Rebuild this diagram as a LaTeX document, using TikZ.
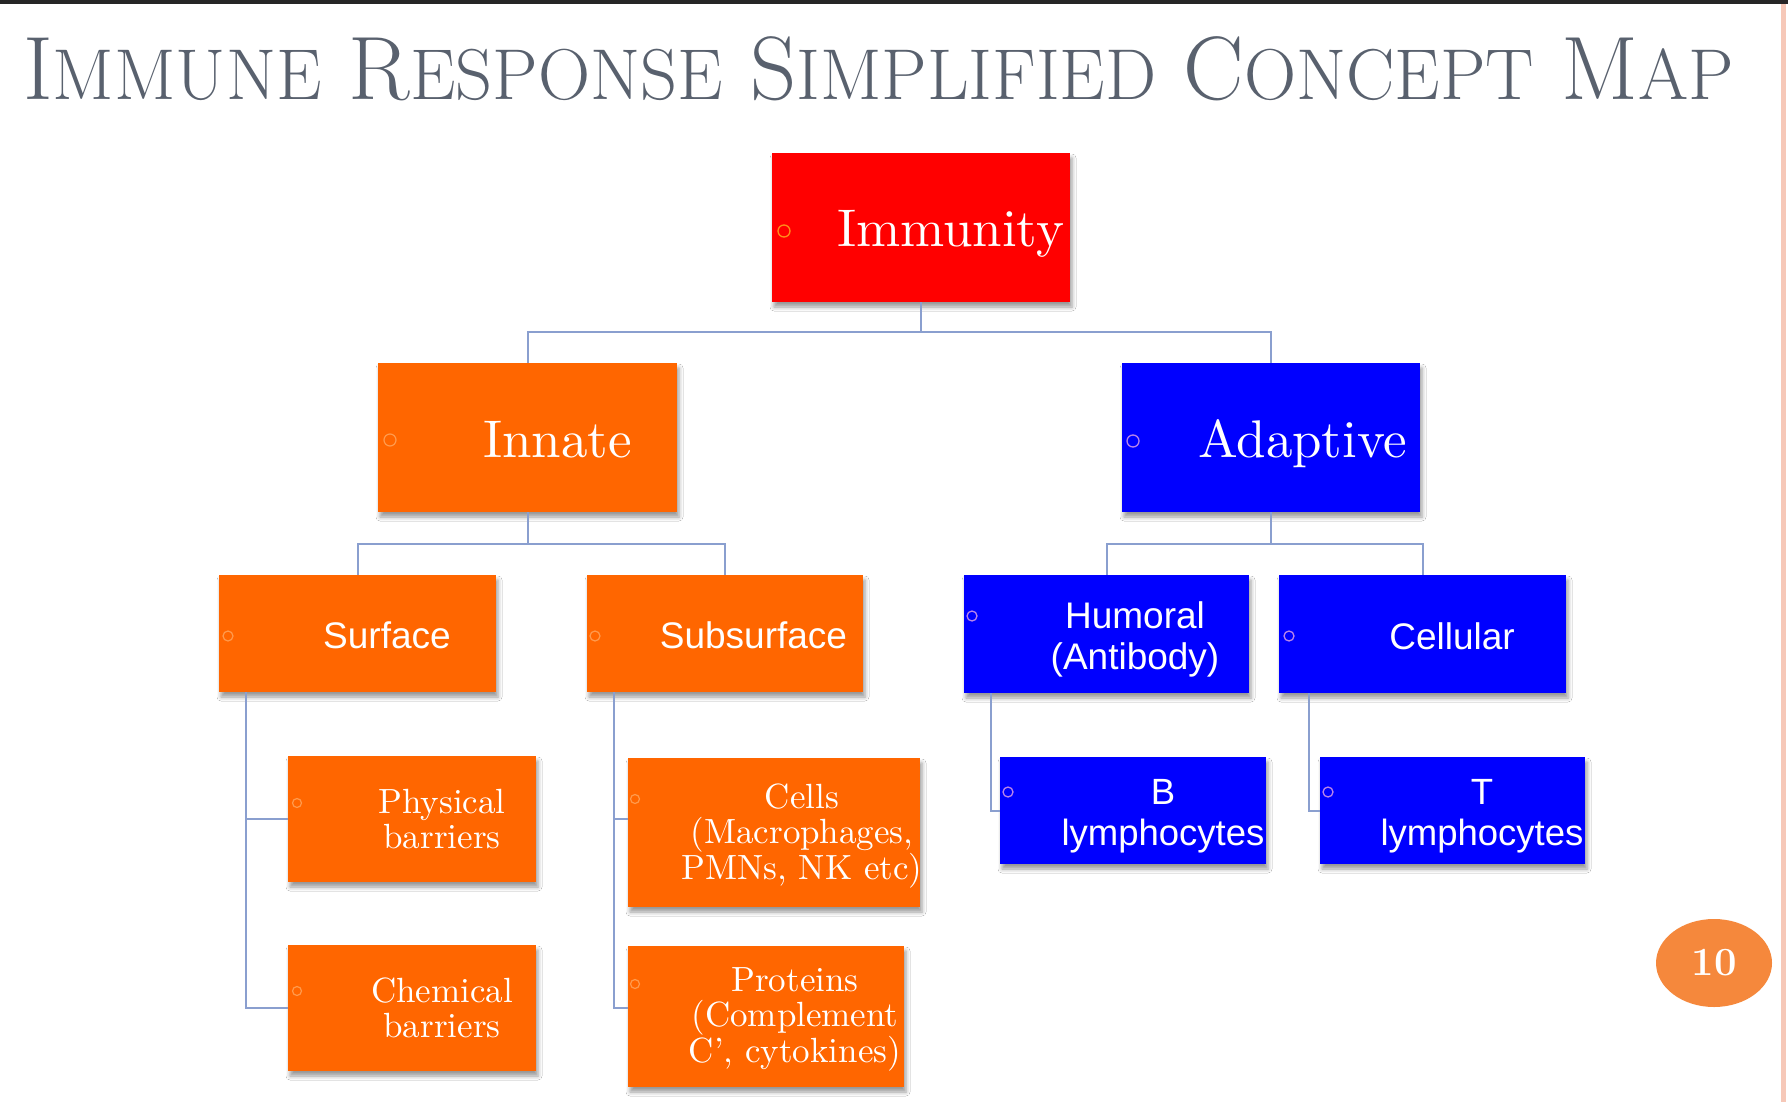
\documentclass[tikz,border=0pt]{standalone}
\usepackage{fontspec}
\newfontfamily\sansarial{Liberation Sans}
\newfontfamily\labelserif{lmroman10-regular.otf}
\usetikzlibrary{shapes.geometric,shadows.blur}

\definecolor{immred}{HTML}{FF0000}
\definecolor{innorange}{HTML}{FF6600}
\definecolor{adablue}{HTML}{0000FF}
\definecolor{linkblue}{HTML}{8A9FCF}
\definecolor{titlegrey}{HTML}{59616E}
\definecolor{pageorange}{HTML}{F5883C}
\definecolor{edgepink}{HTML}{F6C8B8}
\definecolor{topbar}{HTML}{262626}
\definecolor{dotorange}{HTML}{FF9A4D}
\definecolor{dotred}{HTML}{FF8C1A}
\definecolor{dotblue}{HTML}{B784EA}

\newcommand\titlesc[1]{{\fontsize{72}{72}\selectfont #1}}

\begin{document}
\begin{tikzpicture}[x=1pt,y=-1pt,
  box/.style={rectangle, inner sep=0pt,
    blur shadow={shadow xshift=2pt, shadow yshift=-5pt,
                 shadow blur radius=4pt, shadow opacity=40}},
  conn/.style={draw=linkblue, line width=2pt},
  bigserif/.style={text=white, inner sep=0pt, font=\labelserif\fontsize{53}{53}\selectfont},
  sanslbl/.style={text=white, inner sep=0pt, align=center,
    font=\sansarial\fontsize{37}{41}\selectfont},
  sanslblb/.style={text=white, inner sep=0pt, align=center,
    font=\sansarial\fontsize{36.5}{41}\selectfont},
  seriflbl/.style={text=white, inner sep=0pt, align=center,
    font=\labelserif\fontsize{35}{34.5}\selectfont},
  dotO/.style={draw=dotorange, line width=1.2pt},
  dotR/.style={draw=dotred, line width=1.3pt},
  dotB/.style={draw=dotblue, line width=1.3pt}]

% page frame
\useasboundingbox (0,0) rectangle (1788,1102);
\fill[white] (0,0) rectangle (1788,1102);
\fill[topbar] (0,0) rectangle (1788,4);
\fill[edgepink] (1781,4) rectangle (1786,1102);

% title
\node[anchor=base west, inner sep=0pt, text=titlegrey] (title) at (23,100)
  {\scalebox{1.005}[1]{\fontsize{90}{90}\selectfont
   I\titlesc{MMUNE} R\titlesc{ESPONSE} S\titlesc{IMPLIFIED} C\titlesc{ONCEPT} M\titlesc{AP}}};

% boxes
\node[box, fill=immred,    minimum width=298, minimum height=149] (imm) at (921,227.5) {};
\node[box, fill=innorange, minimum width=299, minimum height=149] (inn) at (527.5,437.5) {};
\node[box, fill=adablue,   minimum width=298, minimum height=149] (ada) at (1271,437.5) {};
\node[box, fill=innorange, minimum width=277, minimum height=117] (sur) at (357.5,633.5) {};
\node[box, fill=innorange, minimum width=276, minimum height=117] (sub) at (725,633.5) {};
\node[box, fill=adablue,   minimum width=285, minimum height=118] (hum) at (1106.5,634) {};
\node[box, fill=adablue,   minimum width=287, minimum height=118] (cel) at (1422.5,634) {};
\node[box, fill=innorange, minimum width=248, minimum height=126] (phy) at (412,819) {};
\node[box, fill=innorange, minimum width=248, minimum height=126] (che) at (412,1008) {};
\node[box, fill=innorange, minimum width=292, minimum height=149] (cls) at (774,832.5) {};
\node[box, fill=innorange, minimum width=276, minimum height=141] (pro) at (766,1016.5) {};
\node[box, fill=adablue,   minimum width=266, minimum height=107] (bly) at (1133,810.5) {};
\node[box, fill=adablue,   minimum width=265, minimum height=107] (tly) at (1452.5,810.5) {};

% connectors
\coordinate (j1) at (921,332);
\coordinate (j2) at (527.5,544);
\coordinate (j3) at (1271,544);
\draw[conn] (imm.south) -- (j1);
\draw[conn] (inn.north) |- (j1) -| (ada.north);
\draw[conn] (inn.south) -- (j2);
\draw[conn] (sur.north) |- (j2) -| (sub.north);
\draw[conn] (ada.south) -- (j3);
\draw[conn] (hum.north) |- (j3) -| (cel.north);
\coordinate (sv) at ([xshift=27pt]sur.south west);
\coordinate (bv) at ([xshift=27pt]sub.south west);
\coordinate (hv) at ([xshift=27pt]hum.south west);
\coordinate (cv) at ([xshift=30pt]cel.south west);
\draw[conn] (sv) |- (phy.west);
\draw[conn] (sv) |- (che.west);
\draw[conn] (bv) |- (cls.west |- phy.west);
\draw[conn] (bv) |- (pro.west |- che.west);
\draw[conn] (hv) |- (bly.west);
\draw[conn] (cv) |- (tly.west);

% bullet rings
\draw[dotR] (784,231) circle (6);
\draw[dotO] (390,440) circle (6);
\draw[dotB] (1133,441) circle (6);
\draw[dotO] (228,636) circle (5);
\draw[dotO] (595,636) circle (5);
\draw[dotB] (972,616) circle (5);
\draw[dotB] (1289,636) circle (5);
\draw[dotB] (1008,792) circle (5);
\draw[dotB] (1328,792) circle (5);
\draw[dotO] (297,803) circle (4.5);
\draw[dotO] (297,991) circle (4.5);
\draw[dotO] (635,799) circle (4.5);
\draw[dotO] (635,984) circle (4.5);

% labels (multi-line labels sit on the baseline of their last line)
\node[bigserif, anchor=base west] (immT) at (837,247) {Immunity};
\node[bigserif, anchor=base west] (innT) at (483,457) {Innate};
\node[bigserif, anchor=base west] (adaT) at (1198,457) {Adaptive};
\node[sanslbl, anchor=base] (surT) at (387,648) {Surface};
\node[sanslbl, anchor=base] (subT) at (753.5,648) {Subsurface};
\node[sanslbl, anchor=base] (humT) at (1135,669) {Humoral\\(Antibody)};
\node[sanslbl, anchor=base] (celT) at (1452,649) {Cellular};
\node[sanslblb, anchor=base] (blyT) at (1163,845) {B\\lymphocytes};
\node[sanslblb, anchor=base] (tlyT) at (1482,845) {T\\lymphocytes};
\node[seriflbl, anchor=base] (phyT) at (442,848) {Physical\\barriers};
\node[seriflbl, anchor=base] (cheT) at (442,1037) {Chemical\\barriers};
\node[seriflbl, anchor=base] (clsT) at (802,879) {Cells\\(Macrophages,\\PMNs, NK etc)};
\node[seriflbl, anchor=base] (proT) at (795,1062) {Proteins\\(Complement\\C’, cytokines)};

% slide number
\node[ellipse, fill=pageorange, minimum width=116, minimum height=88, inner sep=0pt,
      text=white, font=\bfseries\fontsize{40}{40}\selectfont] (pg) at (1714,963) {10};
\end{tikzpicture}
\end{document}
